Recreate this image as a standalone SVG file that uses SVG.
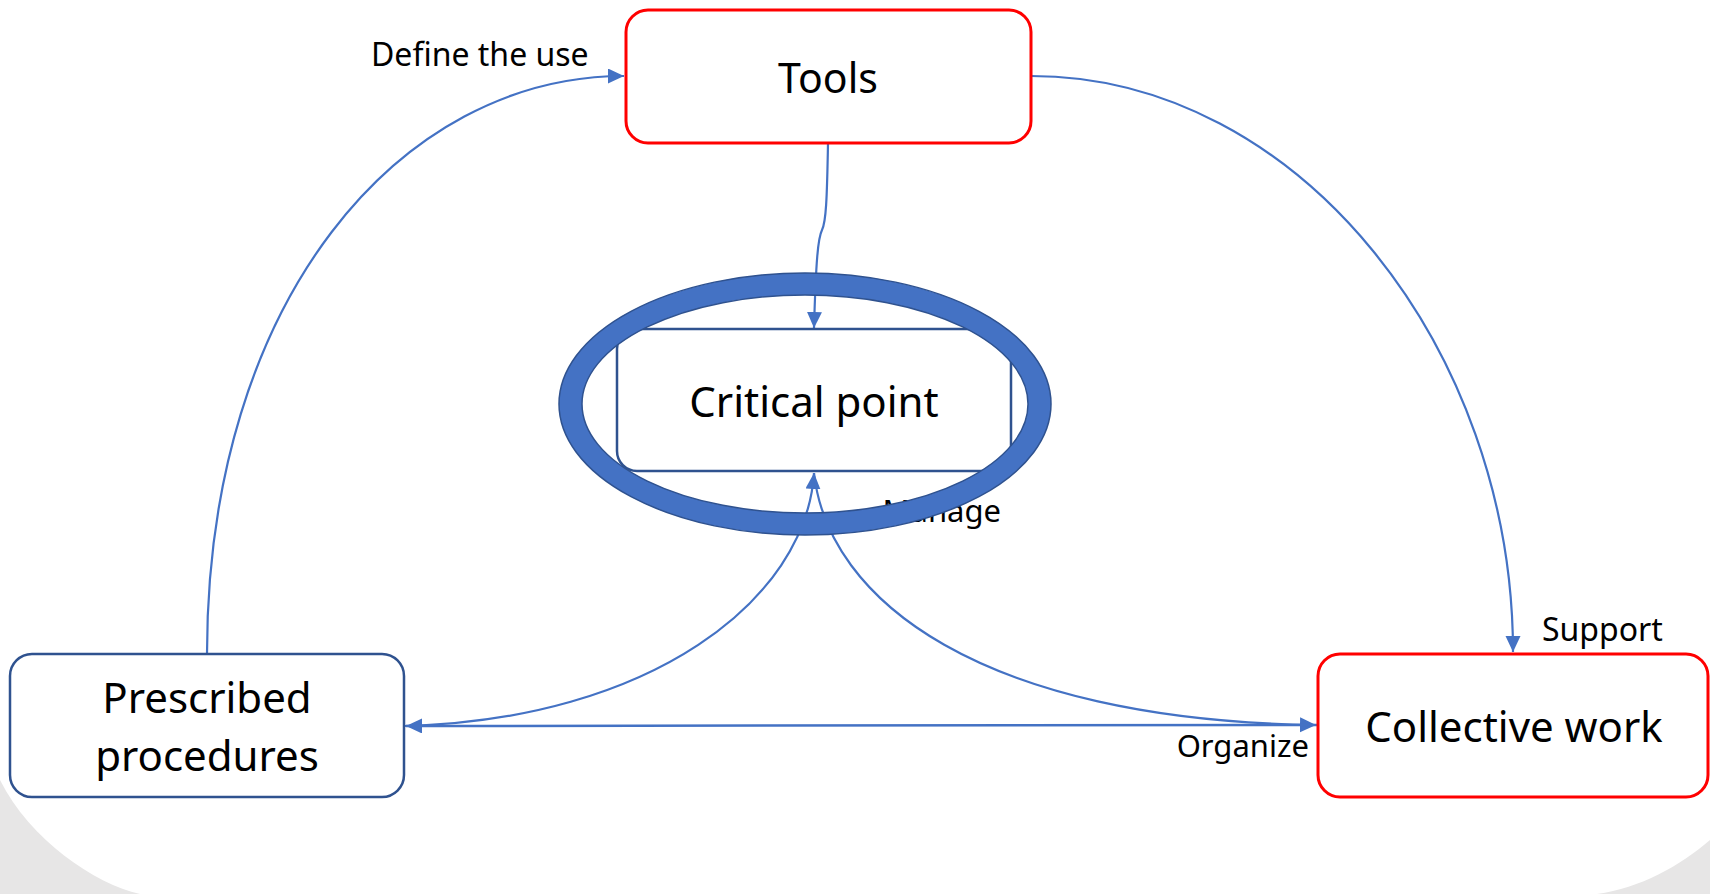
<svg xmlns="http://www.w3.org/2000/svg" width="1710" height="894" viewBox="0 0 1710 894">
<style>
.box-red{fill:#FFFFFF;stroke:#FF0000;stroke-width:3}
.box-blue{fill:#FFFFFF;stroke:#2F528F;stroke-width:2.5}
.node-text{font-family:"Noto Sans","Open Sans","Liberation Sans",sans-serif;font-size:42px;fill:#000000;text-anchor:middle}
.label{font-family:"Noto Sans","Open Sans","Liberation Sans",sans-serif;font-size:32px;fill:#000000}
.conn{fill:none;stroke:#4472C4;stroke-width:2.2}
.ring{fill:#4472C4;fill-rule:evenodd;stroke:#2F528F;stroke-width:1.5}
</style>
<defs>
<marker id="arrow" markerUnits="userSpaceOnUse" markerWidth="18" markerHeight="16" refX="16" refY="7.5" orient="auto">
<path d="M0,0 L16,7.5 L0,15 Z" fill="#4472C4"/>
</marker>
</defs>
<rect x="0" y="0" width="1710" height="894" fill="#E7E6E6"/>
<path d="M0,0 H1710 V840 C1680,866 1640,888 1597,894 H140 C95,884 30,840 0,780 Z" fill="#FFFFFF"/>
<g id="connectors">
<path class="conn" d="M207,654 C207,300 400,76 624,76" marker-end="url(#arrow)"/>
<path class="conn" d="M1031,76 C1300,76 1513,350 1513,652" marker-end="url(#arrow)"/>
<path class="conn" d="M828,143 C827,200 826,222 822,230 C818,238 816,260 814,328" marker-end="url(#arrow)"/>
<path class="conn" d="M404,726 C650,720 806,600 814,473" marker-end="url(#arrow)"/>
<path class="conn" d="M814,473 C828,600 980,720 1316,725" marker-end="url(#arrow)"/>
<path class="conn" style="stroke-width:2.5" d="M1318,725 L406,726" marker-end="url(#arrow)"/>
</g>
<g id="node-tools">
<rect class="box-red" x="626" y="10" width="405" height="133" rx="22"/>
<text class="node-text" x="828" y="93" style="font-size:41px">Tools</text>
</g>
<g id="node-critical">
<rect class="box-blue" x="617" y="329" width="394" height="142" rx="20"/>
<text class="node-text" x="814" y="417">Critical point</text>
</g>
<g id="node-prescribed">
<rect class="box-blue" x="10" y="654" width="394" height="143" rx="22"/>
<text class="node-text" x="207" y="713">Prescribed</text>
<text class="node-text" x="207" y="771">procedures</text>
</g>
<g id="node-collective">
<rect class="box-red" x="1318" y="654" width="390" height="143" rx="22"/>
<text class="node-text" x="1514" y="742">Collective work</text>
</g>
<g id="labels">
<text class="label" x="371" y="66">Define the use</text>
<text class="label" x="1542" y="641">Support</text>
<text class="label" x="1309" y="757" text-anchor="end" style="font-size:31px">Organize</text>
<text class="label" x="1001" y="522" text-anchor="end" style="font-size:31px">Manage</text>
</g>
<g id="highlight">
<path class="ring" d="M559,404 A246,131 0 1,0 1051,404 A246,131 0 1,0 559,404 Z M582,404 A223,109 0 1,0 1028,404 A223,109 0 1,0 582,404 Z"/>
</g>
</svg>
